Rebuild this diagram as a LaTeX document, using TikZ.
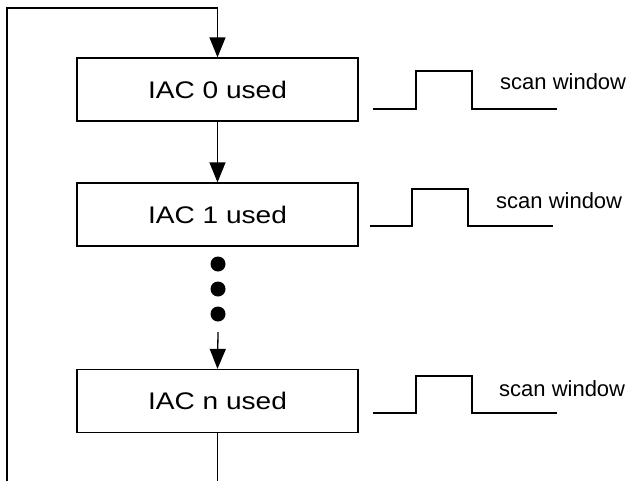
\documentclass[tikz,border=0pt]{standalone}
\usepackage{fontspec}
\setmainfont{Liberation Sans}
\newfontfamily\iacfont[FakeStretch=1.17]{Liberation Sans}
\usetikzlibrary{arrows.meta}
\tikzset{
  iacbox/.style={draw, line width=1.3pt, minimum width=281pt, minimum height=63pt, inner sep=0pt, font=\iacfont\fontsize{24}{28}\selectfont},
  conn/.style={line width=1.3pt},
  arr/.style={conn, -{Triangle[length=20pt,width=16pt]}},
  wave/.style={line width=1.3pt},
  lbl/.style={anchor=west, inner sep=0pt, font=\fontsize{22}{26}\selectfont},
  dotc/.style={circle, fill=black, minimum size=15pt, inner sep=0pt}
}
\begin{document}
\begin{tikzpicture}[x=1pt,y=-1pt]
\useasboundingbox (0,0) rectangle (640,480);
\clip (0,0) rectangle (640,480);
\node[iacbox] (b0) at (217.5,89.5) {IAC 0 used};
\node[iacbox] (b1) at (217.5,214.5) {IAC 1 used};
\node[iacbox] (bn) at (217.5,401) {IAC n used};
\node[dotc] (d1) at (218,264) {};
\node[dotc] (d2) at (218,289) {};
\node[dotc] (d3) at (218,314) {};
\coordinate (s3) at (218,332);
\coordinate (lb) at (7,495);
\coordinate (lt) at (7,8);
\coordinate (tt) at (b0.north |- lt);
\coordinate (bb) at (bn.south |- lb);
\draw[arr] (bn.south) -- (bb) -- (lb) -- (lt) -- (tt) -- (b0.north);
\draw[arr] (b0.south) -- (b1.north);
\draw[arr] (s3) -- (bn.north);
% waveforms
\draw[wave] (373,109) -- (416,109) -- (416,71) -- (472,71) -- (472,109) -- (557,109);
\node[lbl] (w0) at (500,82) {scan window};
\draw[wave] (370,226) -- (412,226) -- (412,189) -- (468,189) -- (468,226) -- (553,226);
\node[lbl] (w1) at (496,201) {scan window};
\draw[wave] (373,413) -- (416,413) -- (416,376) -- (472,376) -- (472,413) -- (557,413);
\node[lbl] (wn) at (499,389) {scan window};
\end{tikzpicture}
\end{document}
